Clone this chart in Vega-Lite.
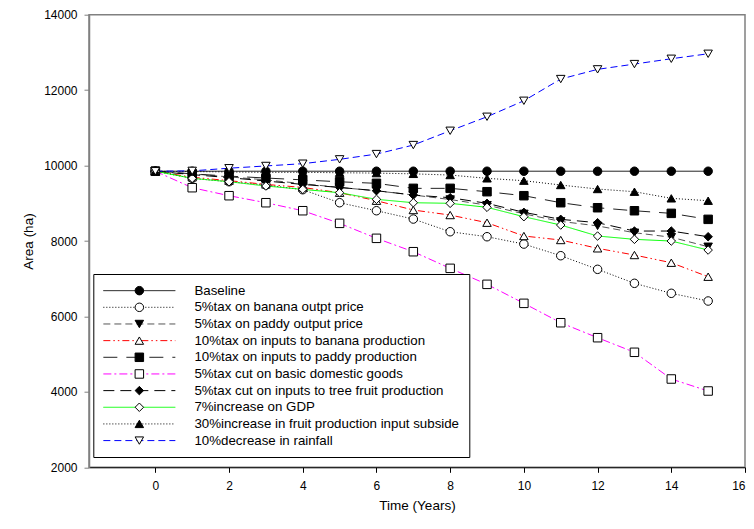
{
  "$schema": "https://vega.github.io/schema/vega-lite/v6.json",
  "width": 656,
  "height": 452.6,
  "autosize": "none",
  "padding": {"left": 89, "top": 14.7, "right": 9, "bottom": 61.7},
  "background": "white",
  "config": {
    "font": "Liberation Sans",
    "view": {"stroke": "#808080", "strokeWidth": 1.5},
    "axis": {"grid": false, "labelFont": "Liberation Sans", "titleFont": "Liberation Sans", "labelColor": "black", "titleColor": "black", "titleFontWeight": "normal"}
  },
  "datasets": {
    "rows": [
      {"series": "Baseline", "year": 0, "area": 9850}, {"series": "Baseline", "year": 1, "area": 9850}, {"series": "Baseline", "year": 2, "area": 9850}, {"series": "Baseline", "year": 3, "area": 9850}, {"series": "Baseline", "year": 4, "area": 9850}, {"series": "Baseline", "year": 5, "area": 9850}, {"series": "Baseline", "year": 6, "area": 9850}, {"series": "Baseline", "year": 7, "area": 9850}, {"series": "Baseline", "year": 8, "area": 9850}, {"series": "Baseline", "year": 9, "area": 9850}, {"series": "Baseline", "year": 10, "area": 9850}, {"series": "Baseline", "year": 11, "area": 9850}, {"series": "Baseline", "year": 12, "area": 9850}, {"series": "Baseline", "year": 13, "area": 9850}, {"series": "Baseline", "year": 14, "area": 9850}, {"series": "Baseline", "year": 15, "area": 9850},
      {"series": "5%tax on banana outpt price", "year": 0, "area": 9850}, {"series": "5%tax on banana outpt price", "year": 1, "area": 9661}, {"series": "5%tax on banana outpt price", "year": 2, "area": 9572}, {"series": "5%tax on banana outpt price", "year": 3, "area": 9485}, {"series": "5%tax on banana outpt price", "year": 4, "area": 9360}, {"series": "5%tax on banana outpt price", "year": 5, "area": 9015}, {"series": "5%tax on banana outpt price", "year": 6, "area": 8803}, {"series": "5%tax on banana outpt price", "year": 7, "area": 8582}, {"series": "5%tax on banana outpt price", "year": 8, "area": 8246}, {"series": "5%tax on banana outpt price", "year": 9, "area": 8113}, {"series": "5%tax on banana outpt price", "year": 10, "area": 7919}, {"series": "5%tax on banana outpt price", "year": 11, "area": 7610}, {"series": "5%tax on banana outpt price", "year": 12, "area": 7249}, {"series": "5%tax on banana outpt price", "year": 13, "area": 6878}, {"series": "5%tax on banana outpt price", "year": 14, "area": 6613}, {"series": "5%tax on banana outpt price", "year": 15, "area": 6409},
      {"series": "5%tax on paddy output price", "year": 0, "area": 9850}, {"series": "5%tax on paddy output price", "year": 1, "area": 9780}, {"series": "5%tax on paddy output price", "year": 2, "area": 9700}, {"series": "5%tax on paddy output price", "year": 3, "area": 9620}, {"series": "5%tax on paddy output price", "year": 4, "area": 9520}, {"series": "5%tax on paddy output price", "year": 5, "area": 9420}, {"series": "5%tax on paddy output price", "year": 6, "area": 9330}, {"series": "5%tax on paddy output price", "year": 7, "area": 9220}, {"series": "5%tax on paddy output price", "year": 8, "area": 9100}, {"series": "5%tax on paddy output price", "year": 9, "area": 8950}, {"series": "5%tax on paddy output price", "year": 10, "area": 8720}, {"series": "5%tax on paddy output price", "year": 11, "area": 8520}, {"series": "5%tax on paddy output price", "year": 12, "area": 8400}, {"series": "5%tax on paddy output price", "year": 13, "area": 8220}, {"series": "5%tax on paddy output price", "year": 14, "area": 8100}, {"series": "5%tax on paddy output price", "year": 15, "area": 7848},
      {"series": "10%tax on inputs to banana production", "year": 0, "area": 9850}, {"series": "10%tax on inputs to banana production", "year": 1, "area": 9690}, {"series": "10%tax on inputs to banana production", "year": 2, "area": 9600}, {"series": "10%tax on inputs to banana production", "year": 3, "area": 9500}, {"series": "10%tax on inputs to banana production", "year": 4, "area": 9420}, {"series": "10%tax on inputs to banana production", "year": 5, "area": 9280}, {"series": "10%tax on inputs to banana production", "year": 6, "area": 9068}, {"series": "10%tax on inputs to banana production", "year": 7, "area": 8821}, {"series": "10%tax on inputs to banana production", "year": 8, "area": 8688}, {"series": "10%tax on inputs to banana production", "year": 9, "area": 8485}, {"series": "10%tax on inputs to banana production", "year": 10, "area": 8132}, {"series": "10%tax on inputs to banana production", "year": 11, "area": 8026}, {"series": "10%tax on inputs to banana production", "year": 12, "area": 7806}, {"series": "10%tax on inputs to banana production", "year": 13, "area": 7628}, {"series": "10%tax on inputs to banana production", "year": 14, "area": 7424}, {"series": "10%tax on inputs to banana production", "year": 15, "area": 7053},
      {"series": "10%tax on inputs to paddy production", "year": 0, "area": 9850}, {"series": "10%tax on inputs to paddy production", "year": 1, "area": 9780}, {"series": "10%tax on inputs to paddy production", "year": 2, "area": 9720}, {"series": "10%tax on inputs to paddy production", "year": 3, "area": 9670}, {"series": "10%tax on inputs to paddy production", "year": 4, "area": 9620}, {"series": "10%tax on inputs to paddy production", "year": 5, "area": 9570}, {"series": "10%tax on inputs to paddy production", "year": 6, "area": 9529}, {"series": "10%tax on inputs to paddy production", "year": 7, "area": 9396}, {"series": "10%tax on inputs to paddy production", "year": 8, "area": 9396}, {"series": "10%tax on inputs to paddy production", "year": 9, "area": 9307}, {"series": "10%tax on inputs to paddy production", "year": 10, "area": 9201}, {"series": "10%tax on inputs to paddy production", "year": 11, "area": 9015}, {"series": "10%tax on inputs to paddy production", "year": 12, "area": 8882}, {"series": "10%tax on inputs to paddy production", "year": 13, "area": 8802}, {"series": "10%tax on inputs to paddy production", "year": 14, "area": 8733}, {"series": "10%tax on inputs to paddy production", "year": 15, "area": 8574},
      {"series": "5%tax cut on basic domestic goods", "year": 0, "area": 9850}, {"series": "5%tax cut on basic domestic goods", "year": 1, "area": 9413}, {"series": "5%tax cut on basic domestic goods", "year": 2, "area": 9201}, {"series": "5%tax cut on basic domestic goods", "year": 3, "area": 9015}, {"series": "5%tax cut on basic domestic goods", "year": 4, "area": 8803}, {"series": "5%tax cut on basic domestic goods", "year": 5, "area": 8468}, {"series": "5%tax cut on basic domestic goods", "year": 6, "area": 8071}, {"series": "5%tax cut on basic domestic goods", "year": 7, "area": 7716}, {"series": "5%tax cut on basic domestic goods", "year": 8, "area": 7275}, {"series": "5%tax cut on basic domestic goods", "year": 9, "area": 6851}, {"series": "5%tax cut on basic domestic goods", "year": 10, "area": 6347}, {"series": "5%tax cut on basic domestic goods", "year": 11, "area": 5833}, {"series": "5%tax cut on basic domestic goods", "year": 12, "area": 5436}, {"series": "5%tax cut on basic domestic goods", "year": 13, "area": 5049}, {"series": "5%tax cut on basic domestic goods", "year": 14, "area": 4341}, {"series": "5%tax cut on basic domestic goods", "year": 15, "area": 4023},
      {"series": "5%tax cut on inputs to tree fruit production", "year": 0, "area": 9850}, {"series": "5%tax cut on inputs to tree fruit production", "year": 1, "area": 9760}, {"series": "5%tax cut on inputs to tree fruit production", "year": 2, "area": 9680}, {"series": "5%tax cut on inputs to tree fruit production", "year": 3, "area": 9590}, {"series": "5%tax cut on inputs to tree fruit production", "year": 4, "area": 9500}, {"series": "5%tax cut on inputs to tree fruit production", "year": 5, "area": 9420}, {"series": "5%tax cut on inputs to tree fruit production", "year": 6, "area": 9333}, {"series": "5%tax cut on inputs to tree fruit production", "year": 7, "area": 9219}, {"series": "5%tax cut on inputs to tree fruit production", "year": 8, "area": 9148}, {"series": "5%tax cut on inputs to tree fruit production", "year": 9, "area": 8999}, {"series": "5%tax cut on inputs to tree fruit production", "year": 10, "area": 8760}, {"series": "5%tax cut on inputs to tree fruit production", "year": 11, "area": 8574}, {"series": "5%tax cut on inputs to tree fruit production", "year": 12, "area": 8485}, {"series": "5%tax cut on inputs to tree fruit production", "year": 13, "area": 8264}, {"series": "5%tax cut on inputs to tree fruit production", "year": 14, "area": 8264}, {"series": "5%tax cut on inputs to tree fruit production", "year": 15, "area": 8113},
      {"series": "7%increase on GDP", "year": 0, "area": 9850}, {"series": "7%increase on GDP", "year": 1, "area": 9661}, {"series": "7%increase on GDP", "year": 2, "area": 9572}, {"series": "7%increase on GDP", "year": 3, "area": 9458}, {"series": "7%increase on GDP", "year": 4, "area": 9369}, {"series": "7%increase on GDP", "year": 5, "area": 9280}, {"series": "7%increase on GDP", "year": 6, "area": 9105}, {"series": "7%increase on GDP", "year": 7, "area": 9015}, {"series": "7%increase on GDP", "year": 8, "area": 8999}, {"series": "7%increase on GDP", "year": 9, "area": 8893}, {"series": "7%increase on GDP", "year": 10, "area": 8644}, {"series": "7%increase on GDP", "year": 11, "area": 8423}, {"series": "7%increase on GDP", "year": 12, "area": 8132}, {"series": "7%increase on GDP", "year": 13, "area": 8044}, {"series": "7%increase on GDP", "year": 14, "area": 7999}, {"series": "7%increase on GDP", "year": 15, "area": 7760},
      {"series": "30%increase in fruit production input subside", "year": 0, "area": 9850}, {"series": "30%increase in fruit production input subside", "year": 1, "area": 9840}, {"series": "30%increase in fruit production input subside", "year": 2, "area": 9830}, {"series": "30%increase in fruit production input subside", "year": 3, "area": 9820}, {"series": "30%increase in fruit production input subside", "year": 4, "area": 9820}, {"series": "30%increase in fruit production input subside", "year": 5, "area": 9810}, {"series": "30%increase in fruit production input subside", "year": 6, "area": 9800}, {"series": "30%increase in fruit production input subside", "year": 7, "area": 9780}, {"series": "30%increase in fruit production input subside", "year": 8, "area": 9749}, {"series": "30%increase in fruit production input subside", "year": 9, "area": 9661}, {"series": "30%increase in fruit production input subside", "year": 10, "area": 9599}, {"series": "30%increase in fruit production input subside", "year": 11, "area": 9484}, {"series": "30%increase in fruit production input subside", "year": 12, "area": 9378}, {"series": "30%increase in fruit production input subside", "year": 13, "area": 9307}, {"series": "30%increase in fruit production input subside", "year": 14, "area": 9131}, {"series": "30%increase in fruit production input subside", "year": 15, "area": 9068},
      {"series": "10%decrease in rainfall", "year": 0, "area": 9850}, {"series": "10%decrease in rainfall", "year": 1, "area": 9860}, {"series": "10%decrease in rainfall", "year": 2, "area": 9930}, {"series": "10%decrease in rainfall", "year": 3, "area": 9990}, {"series": "10%decrease in rainfall", "year": 4, "area": 10050}, {"series": "10%decrease in rainfall", "year": 5, "area": 10165}, {"series": "10%decrease in rainfall", "year": 6, "area": 10305}, {"series": "10%decrease in rainfall", "year": 7, "area": 10544}, {"series": "10%decrease in rainfall", "year": 8, "area": 10923}, {"series": "10%decrease in rainfall", "year": 9, "area": 11294}, {"series": "10%decrease in rainfall", "year": 10, "area": 11718}, {"series": "10%decrease in rainfall", "year": 11, "area": 12294}, {"series": "10%decrease in rainfall", "year": 12, "area": 12551}, {"series": "10%decrease in rainfall", "year": 13, "area": 12691}, {"series": "10%decrease in rainfall", "year": 14, "area": 12832}, {"series": "10%decrease in rainfall", "year": 15, "area": 12964}
    ]
  },
  "data": {"name": "rows"},
  "encoding": {
    "x": {"field": "year", "type": "quantitative", "scale": {"domain": [-1.8, 16], "nice": false, "zero": false},
      "axis": {"values": [0, 2, 4, 6, 8, 10, 12, 14, 16], "title": "Time (Years)", "domainColor": "black", "tickColor": "black", "tickSize": 5, "labelFontSize": 12, "labelPadding": 8, "titleFontSize": 13.5, "titlePadding": 7}},
    "y": {"field": "area", "type": "quantitative", "scale": {"domain": [2000, 14000], "nice": false, "zero": false},
      "axis": {"values": [2000, 4000, 6000, 8000, 10000, 12000, 14000], "format": "d", "title": "Area (ha)", "domainColor": "#808080", "domainWidth": 1.5, "tickColor": "#808080", "tickSize": 5, "labelFontSize": 12, "labelPadding": 7, "titleFontSize": 13.5, "titlePadding": 8}}
  },
  "layer": [
    {
      "mark": {"type": "line", "strokeWidth": 1},
      "encoding": {
        "color": {"field": "series", "type": "nominal",
          "scale": {"domain": ["Baseline", "5%tax on banana outpt price", "5%tax on paddy output price", "10%tax on inputs to banana production", "10%tax on inputs to paddy production", "5%tax cut on basic domestic goods", "5%tax cut on inputs to tree fruit production", "7%increase on GDP", "30%increase in fruit production input subside", "10%decrease in rainfall"],
            "range": ["#000000", "#000000", "#555555", "#ff0000", "#222222", "#ff00ff", "#000000", "#00ff00", "#000000", "#0000ff"]},
          "legend": {"orient": "none", "legendX": 4.3, "legendY": 259.3, "title": null, "symbolType": "M-9,0H9", "symbolSize": 64, "symbolStrokeWidth": 1, "symbolOffset": 29.4, "labelOffset": 48.4, "labelFontSize": 13.3, "labelFont": "Liberation Sans", "labelColor": "black", "labelLimit": 400, "rowPadding": 2.66, "padding": 10, "strokeColor": "black", "fillColor": "white"}},
        "strokeDash": {"field": "series", "type": "nominal",
          "scale": {"domain": ["Baseline", "5%tax on banana outpt price", "5%tax on paddy output price", "10%tax on inputs to banana production", "10%tax on inputs to paddy production", "5%tax cut on basic domestic goods", "5%tax cut on inputs to tree fruit production", "7%increase on GDP", "30%increase in fruit production input subside", "10%decrease in rainfall"],
            "range": [[1, 0], [1, 2], [7, 4], [7, 3, 1.5, 3, 1.5, 3], [14, 9], [8, 3, 2, 3], [11, 6], [1, 0], [1, 2], [7, 4]]},
          "legend": {"orient": "none", "legendX": 4.3, "legendY": 259.3, "title": null, "symbolType": "M-9,0H9", "symbolSize": 64, "symbolStrokeWidth": 1, "symbolOffset": 29.4, "labelOffset": 48.4, "labelFontSize": 13.3, "labelFont": "Liberation Sans", "labelColor": "black", "labelLimit": 400, "rowPadding": 2.66, "padding": 10, "strokeColor": "black", "fillColor": "white"}}
      }
    },
    {
      "mark": {"type": "point", "filled": true, "strokeWidth": 1, "size": 72, "opacity": 1},
      "encoding": {
        "shape": {"field": "series", "type": "nominal",
          "scale": {"domain": ["Baseline", "5%tax on banana outpt price", "5%tax on paddy output price", "10%tax on inputs to banana production", "10%tax on inputs to paddy production", "5%tax cut on basic domestic goods", "5%tax cut on inputs to tree fruit production", "7%increase on GDP", "30%increase in fruit production input subside", "10%decrease in rainfall"],
            "range": ["circle", "circle", "triangle-down", "triangle-up", "square", "square", "diamond", "diamond", "triangle-up", "triangle-down"]},
          "legend": {"orient": "none", "legendX": 4.3, "legendY": 259.3, "title": null, "symbolSize": 72, "symbolStrokeWidth": 1, "symbolOffset": 29.4, "labelOffset": 48.4, "labelFontSize": 13.3, "labelFont": "Liberation Sans", "labelOpacity": 0, "labelLimit": 400, "rowPadding": 2.66, "padding": 10}},
        "fill": {"field": "series", "type": "nominal",
          "scale": {"domain": ["Baseline", "5%tax on banana outpt price", "5%tax on paddy output price", "10%tax on inputs to banana production", "10%tax on inputs to paddy production", "5%tax cut on basic domestic goods", "5%tax cut on inputs to tree fruit production", "7%increase on GDP", "30%increase in fruit production input subside", "10%decrease in rainfall"],
            "range": ["#000000", "#ffffff", "#000000", "#ffffff", "#000000", "#ffffff", "#000000", "#ffffff", "#000000", "#ffffff"]},
          "legend": {"orient": "none", "legendX": 4.3, "legendY": 259.3, "title": null, "symbolSize": 72, "symbolStrokeWidth": 1, "symbolOffset": 29.4, "labelOffset": 48.4, "labelFontSize": 13.3, "labelFont": "Liberation Sans", "labelOpacity": 0, "labelLimit": 400, "rowPadding": 2.66, "padding": 10}},
        "stroke": {"field": "series", "type": "nominal",
          "scale": {"domain": ["Baseline", "5%tax on banana outpt price", "5%tax on paddy output price", "10%tax on inputs to banana production", "10%tax on inputs to paddy production", "5%tax cut on basic domestic goods", "5%tax cut on inputs to tree fruit production", "7%increase on GDP", "30%increase in fruit production input subside", "10%decrease in rainfall"],
            "range": ["#000000", "#000000", "#000000", "#000000", "#000000", "#000000", "#000000", "#000000", "#000000", "#000000"]},
          "legend": {"orient": "none", "legendX": 4.3, "legendY": 259.3, "title": null, "symbolSize": 72, "symbolStrokeWidth": 1, "symbolOffset": 29.4, "labelOffset": 48.4, "labelFontSize": 13.3, "labelFont": "Liberation Sans", "labelOpacity": 0, "labelLimit": 400, "rowPadding": 2.66, "padding": 10}}
      }
    }
  ],
  "resolve": {"legend": {"color": "independent", "strokeDash": "independent", "shape": "independent", "fill": "independent", "stroke": "independent"}}
}
